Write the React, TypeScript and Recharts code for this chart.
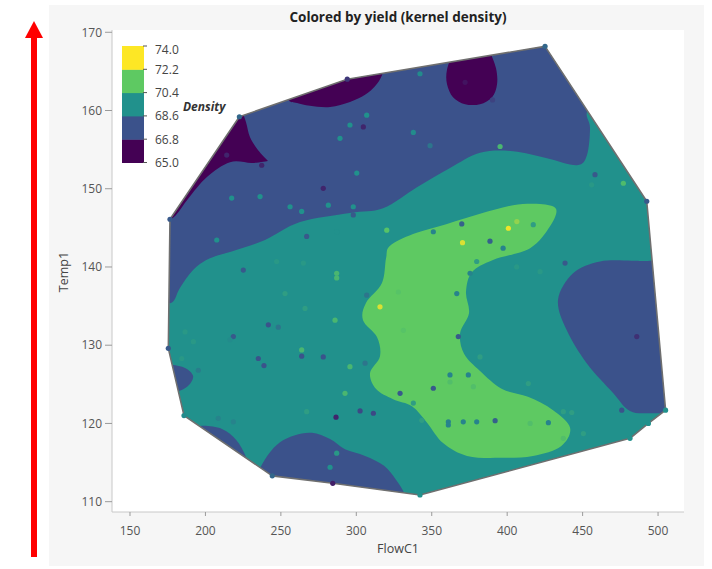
import React from "react";
import { ScatterChart, Scatter, XAxis, YAxis, CartesianGrid } from "recharts";

// [FlowC1, Temp1, sharp?]
type Pt = [number, number] | [number, number, number];

const FONT = "'Open Sans', 'Noto Sans', sans-serif";
const BOX = "#c8c8c8";

const flowTicks = [150, 200, 250, 300, 350, 400, 450, 500];
const tempTicks = [110, 120, 130, 140, 150, 160, 170];
const X_DOMAIN: [number, number] = [138.07, 517.2];
const Y_DOMAIN: [number, number] = [108.68, 170.29];

const levels = [65.0, 66.8, 68.6, 70.4, 72.2, 74.0];
const bandColors = ["#440154", "#3b528b", "#21918c", "#5ec962", "#fde725"];

const hull: Pt[] = [
  [176.5, 146.1], [222.5, 159.2], [294.0, 164.0], [425.1, 168.2], [492.5, 148.4],
  [505.0, 121.7], [493.6, 120.0], [481.4, 118.1], [342.2, 110.85], [284.4, 112.35],
  [244.3, 113.3], [185.8, 121.0], [175.4, 129.6],
];

const blueUpper: Pt[] = [
  [163.3, 135.8, 1], [177.2, 135.4], [183.1, 137.3], [191.8, 139.6], [203.0, 141.1],
  [220.9, 142.2], [239.5, 143.45], [262.7, 145.75], [295.8, 146.9], [317.7, 147.5],
  [340.2, 150.2], [362.1, 152.65], [382.0, 154.6], [403.9, 154.8], [426.4, 153.9],
  [446.3, 153.0], [452.9, 154.3], [454.9, 157.8], [452.9, 159.8], [461.6, 162.0, 1],
  [474.8, 171.6, 1], [163.3, 171.6, 1],
];

const blueRight: Pt[] = [
  [527.8, 141.5, 1], [494.7, 140.8], [483.4, 140.8], [461.6, 140.7], [443.7, 139.2],
  [433.7, 135.8], [439.5, 131.9], [452.7, 127.7], [470.2, 123.9], [481.4, 121.6],
  [496.7, 121.3], [527.8, 121.45, 1],
];

const blueBottom: Pt[] = [
  [234.8, 113.8, 1], [241.5, 116.0], [249.4, 117.6], [259.4, 118.5], [270.6, 118.8],
  [282.6, 118.0], [292.5, 116.7], [305.8, 115.85], [318.4, 114.6], [326.3, 112.8],
  [332.3, 110.7], [332.3, 107.8, 1], [234.8, 107.8, 1],
];

const blueBottomLeft: Pt[] = [
  [199.05, 119.7], [211.0, 119.3], [220.3, 117.9], [226.9, 115.7],
  [230.9, 113.2, 1], [196.4, 115.3, 1], [192.4, 119.4, 1],
];

const blueLeftSmall: Pt[] = [
  [169.9, 127.6, 1], [177.8, 127.5], [186.5, 127.1], [191.8, 126.1],
  [189.1, 124.9], [182.5, 124.15], [169.9, 123.8, 1],
];

const purpleLeft: Pt[] = [
  [171.9, 145.4, 1], [180.5, 146.65], [188.4, 148.7], [201.0, 151.5], [216.3, 153.4],
  [230.9, 153.3], [241.5, 153.55, 1], [234.8, 154.95], [229.5, 156.6], [226.9, 158.5],
  [222.9, 160.7, 1], [213.0, 161.35, 1], [169.9, 147.9, 1],
];

const purpleTop: Pt[] = [
  [253.4, 164.5, 1], [254.7, 161.5], [260.7, 160.96], [269.3, 160.6], [282.6, 160.45],
  [295.8, 161.1], [305.8, 162.0], [312.4, 163.1], [317.0, 164.5], [319.0, 166.5, 1],
];

const purpleCircle: Pt[] = [
  [360.1, 165.2], [360.1, 163.4], [364.1, 161.7], [372.1, 160.8], [382.0, 160.8],
  [390.0, 161.7], [393.3, 163.4], [392.6, 165.4], [388.6, 167.5, 1], [364.1, 167.5, 1],
];

const greenBand: Pt[] = [
  [322.35, 142.7], [337.6, 144.2], [360.1, 145.5], [382.0, 146.8], [403.9, 147.9],
  [421.8, 148.05], [432.4, 147.4], [428.4, 145.2], [415.2, 142.4], [390.6, 140.9],
  [376.7, 139.35], [372.7, 136.8], [374.7, 134.1], [368.8, 131.55], [371.4, 128.9],
  [382.0, 126.7], [396.6, 124.4], [413.8, 123.4], [430.4, 121.7], [441.7, 119.45],
  [435.7, 117.1], [417.1, 115.85], [395.3, 115.6], [373.4, 115.85], [357.5, 117.5],
  [346.9, 120.1], [336.9, 122.2], [324.35, 123.1], [313.1, 124.4], [309.1, 126.45],
  [315.7, 128.6], [313.7, 131.05], [304.45, 133.2], [306.4, 135.4], [317.0, 137.95],
  [319.7, 141.1],
];

// observations: [FlowC1, Temp1, yield]
const observations: [number, number, number][] = [
  [176.5, 146.1, 67.5], [222.5, 159.2, 68.0], [294.0, 164.0, 66.5], [425.1, 168.2, 68.0],
  [492.5, 148.4, 67.5], [505.0, 121.7, 69.5], [493.6, 120.0, 69.5], [481.4, 118.1, 69.5],
  [342.2, 110.85, 69.5], [284.4, 112.35, 65.8], [244.3, 113.3, 68.0], [185.8, 121.0, 69.3],
  [175.4, 129.6, 67.5],
  [214.1, 154.3, 66], [237.3, 153.0, 66], [295.8, 158.15, 69.5], [304.65, 157.9, 66],
  [306.9, 159.4, 69.5], [289.2, 156.45, 69.5], [337.8, 157.2, 69.3], [348.9, 155.5, 68.5],
  [372.1, 163.6, 65.5], [342.2, 164.7, 69.3], [390.3, 161.35, 66.8], [278.1, 150.05, 66],
  [300.3, 152.0, 69.5], [236.2, 149.0, 69.5], [217.4, 148.8, 69.5], [256.1, 147.7, 69.5],
  [263.8, 147.1, 69.5], [281.45, 147.9, 69.5], [298.0, 147.7, 69.5], [298.0, 146.65, 67.5],
  [207.5, 143.45, 69.5], [267.1, 143.9, 67.5], [287.0, 144.5, 69.5], [320.2, 144.7, 71.5],
  [351.05, 144.5, 69.0], [369.9, 145.5, 67.8], [395.3, 155.4, 71.0], [400.8, 144.95, 73.8],
  [406.4, 145.8, 72.5], [370.4, 143.1, 73.5], [388.6, 143.3, 67.8], [397.3, 142.4, 69.0],
  [417.3, 145.4, 70.0], [458.2, 151.8, 67.5], [456.0, 150.5, 69.8], [477.0, 150.7, 71.2],
  [225.1, 139.6, 67.5], [247.2, 140.7, 69.8], [264.9, 140.5, 69.8], [287.0, 139.2, 71.0],
  [287.0, 138.6, 71.0], [252.75, 136.6, 70.0], [266.0, 134.7, 70.0], [285.9, 133.2, 71.0],
  [241.7, 132.6, 67.3], [248.3, 132.3, 68.5], [218.5, 131.1, 67.5], [192.0, 130.45, 69.8],
  [186.5, 131.7, 69.8], [216.3, 130.7, 69.3], [263.8, 129.4, 71.0], [263.8, 128.6, 67.3],
  [278.1, 128.5, 67.3], [235.05, 128.3, 67.3], [238.8, 127.4, 67.3], [184.3, 128.3, 69.8],
  [195.3, 126.8, 68.8], [295.8, 127.25, 71.0], [305.8, 127.7, 68.5], [292.5, 123.85, 71.0],
  [267.1, 121.5, 70.0], [208.5, 120.65, 69.0], [218.5, 120.2, 69.0], [286.55, 120.8, 66.0],
  [302.5, 121.6, 67.0], [311.3, 121.3, 67.0], [282.6, 114.4, 69.5], [287.0, 116.2, 69.8],
  [315.7, 134.9, 73.5], [306.9, 136.4, 68.5], [329.0, 123.85, 67.5], [327.9, 136.8, 71.5],
  [331.2, 131.9, 71.5], [379.8, 140.7, 70.0], [375.4, 139.2, 69.0], [438.35, 140.5, 67.5],
  [406.3, 140.0, 69.8], [421.8, 139.4, 69.8], [366.6, 136.6, 69.0], [367.6, 131.1, 67.5],
  [382.0, 128.5, 70.0], [485.9, 131.1, 66.3], [362.1, 126.2, 69.0], [374.25, 126.2, 69.0],
  [362.1, 125.3, 71.3], [351.05, 124.5, 67.5], [377.6, 124.7, 71.3], [414.0, 125.1, 70.0],
  [361.0, 120.2, 69.0], [361.0, 119.8, 69.0], [370.9, 120.2, 69.0], [379.8, 120.2, 69.0],
  [392.0, 120.35, 67.8], [427.3, 120.1, 69.0], [415.2, 120.0, 71.3], [437.2, 121.5, 70.0],
  [442.8, 121.4, 70.0], [437.2, 118.1, 71.3], [450.5, 118.7, 70.0], [475.95, 121.7, 67.3],
  [343.4, 120.4, 70.0], [337.8, 122.6, 70.0],
];

const toRows = (pts: Pt[]) => pts.map((p) => ({ x: p[0], y: p[1], sharp: p[2] === 1 }));
const obsRows = observations.map(([x, y, v]) => ({ x, y, yield: v }));

function hexRgb(h: string) {
  const n = parseInt(h.slice(1), 16);
  return [(n >> 16) & 255, (n >> 8) & 255, n & 255];
}

function yieldColor(v: number) {
  const t = Math.max(0, Math.min(1, (v - levels[0]) / (levels[5] - levels[0])));
  const s = t * 4;
  const i = Math.min(3, Math.floor(s));
  const f = s - i;
  const a = hexRgb(bandColors[i]);
  const b = hexRgb(bandColors[i + 1]);
  const c = a.map((av, k) => Math.round(av + (b[k] - av) * f));
  return `rgb(${c[0]},${c[1]},${c[2]})`;
}

type XY = { x: number; y: number };

function linearPath(pts: XY[]) {
  return pts.map((p, i) => `${i ? "L" : "M"}${p.x},${p.y}`).join("") + "Z";
}

// closed catmull-rom, corners where sharp is set
function smoothPath(pts: XY[], sharp: boolean[]) {
  const n = pts.length;
  let d = `M${pts[0].x},${pts[0].y}`;
  for (let i = 0; i < n; i++) {
    const p0 = pts[(i - 1 + n) % n];
    const p1 = pts[i];
    const p2 = pts[(i + 1) % n];
    const p3 = pts[(i + 2) % n];
    const k1 = sharp[i] ? 0 : 1 / 6;
    const k2 = sharp[(i + 1) % n] ? 0 : 1 / 6;
    const c1x = p1.x + (p2.x - p0.x) * k1;
    const c1y = p1.y + (p2.y - p0.y) * k1;
    const c2x = p2.x - (p3.x - p1.x) * k2;
    const c2y = p2.y - (p3.y - p1.y) * k2;
    d += `C${c1x},${c1y} ${c2x},${c2y} ${p2.x},${p2.y}`;
  }
  return d + "Z";
}

const noSymbol = () => <g />;

function regionLine(rows: { sharp: boolean }[], fill: string) {
  return (props: any) => (
    <path
      d={smoothPath(props.points, rows.map((r) => r.sharp))}
      fill={fill}
      stroke="none"
      clipPath="url(#hull-clip)"
    />
  );
}

const hullRows = toRows(hull);

const hullFill = (props: any) => (
  <g>
    <defs>
      <clipPath id="hull-clip">
        <path d={linearPath(props.points)} />
      </clipPath>
    </defs>
    <path d={linearPath(props.points)} fill={bandColors[2]} stroke="none" />
  </g>
);

const hullOutline = (props: any) => (
  <path d={linearPath(props.points)} fill="none" stroke="#6f6f6f" strokeWidth={1.6} strokeLinejoin="round" />
);

const regions: { rows: ReturnType<typeof toRows>; color: string }[] = [
  { rows: toRows(blueUpper), color: bandColors[1] },
  { rows: toRows(blueRight), color: bandColors[1] },
  { rows: toRows(blueBottom), color: bandColors[1] },
  { rows: toRows(blueBottomLeft), color: bandColors[1] },
  { rows: toRows(blueLeftSmall), color: bandColors[1] },
  { rows: toRows(purpleLeft), color: bandColors[0] },
  { rows: toRows(purpleTop), color: bandColors[0] },
  { rows: toRows(purpleCircle), color: bandColors[0] },
  { rows: toRows(greenBand), color: bandColors[3] },
];

const tickStyle = { fill: "#555", fontSize: 12, fontFamily: FONT };

function ColorBar() {
  const left = 122;
  const top = 46;
  const w = 22;
  const bandH = 23.3;
  const n = bandColors.length;
  return (
    <g>
      {bandColors.map((c, i) => (
        <rect key={c} x={left} y={top + (n - 1 - i) * bandH} width={w} height={bandH + 0.5} fill={c} />
      ))}
      {levels.map((lv, j) => {
        const y = top + (n - j) * bandH;
        return (
          <g key={lv}>
            <line x1={left + w - 1} x2={left + w + 3} y1={y} y2={y} stroke="#555" strokeWidth={1} />
            <text x={155} y={Math.max(y, top + 3)} fontSize={12} fill="#444" dominantBaseline="central" fontFamily={FONT}>
              {lv.toFixed(1)}
            </text>
          </g>
        );
      })}
      <text x={183} y={106} fontSize={12} fontWeight={700} fontStyle="italic" fill="#333" dominantBaseline="central" fontFamily={FONT}>
        Density
      </text>
    </g>
  );
}

export default function App() {
  return (
    <div style={{ position: "absolute", left: 0, top: 0, width: 712, height: 569, background: "#fff", fontFamily: FONT }}>
      <div style={{ position: "absolute", left: 49, top: 5, width: 655, height: 561, background: "#f6f6f6" }} />
      <div style={{ position: "absolute", left: 0, top: 0 }}>
        <ScatterChart width={712} height={569} margin={{ top: 30, right: 28, bottom: 12, left: 62 }}>
          <CartesianGrid horizontal={false} vertical={false} fill="#ffffff" />
          <XAxis
            dataKey="x"
            type="number"
            domain={X_DOMAIN}
            allowDataOverflow
            ticks={flowTicks}
            height={45}
            tickSize={4}
            tickMargin={10}
            tick={tickStyle}
            tickLine={{ stroke: "#9a9a9a" }}
            axisLine={{ stroke: BOX }}
          />
          <XAxis
            xAxisId="top"
            orientation="top"
            type="number"
            domain={X_DOMAIN}
            allowDataOverflow
            height={0}
            tick={false}
            tickLine={false}
            axisLine={{ stroke: BOX }}
          />
          <YAxis
            dataKey="y"
            type="number"
            domain={Y_DOMAIN}
            allowDataOverflow
            ticks={tempTicks}
            width={50}
            tickSize={7}
            tickMargin={3}
            tick={tickStyle}
            tickLine={{ stroke: "#9a9a9a" }}
            axisLine={{ stroke: BOX }}
          />
          <YAxis
            yAxisId="right"
            orientation="right"
            type="number"
            domain={Y_DOMAIN}
            allowDataOverflow
            width={0}
            tick={false}
            tickLine={false}
            axisLine={{ stroke: BOX }}
          />
          <Scatter data={hullRows} isAnimationActive={false} shape={noSymbol} line={hullFill} />
          {regions.map((r, i) => (
            <Scatter
              key={i}
              data={r.rows}
              isAnimationActive={false}
              shape={noSymbol}
              line={regionLine(r.rows, r.color)}
            />
          ))}
          <Scatter data={hullRows} isAnimationActive={false} shape={noSymbol} line={hullOutline} />
          <Scatter
            data={obsRows}
            isAnimationActive={false}
            shape={(p: any) => <circle cx={p.cx} cy={p.cy} r={2.6} fill={yieldColor(p.payload.yield)} />}
          />
        </ScatterChart>
      </div>
      <svg width={712} height={569} style={{ position: "absolute", left: 0, top: 0, pointerEvents: "none" }}>
        <text x={398} y={21.5} textAnchor="middle" fontSize={13.5} fontWeight={700} fill="#222" fontFamily={FONT}>
          Colored by yield (kernel density)
        </text>
        <text x={398} y={553} textAnchor="middle" fontSize={12.5} fill="#444" fontFamily={FONT}>
          FlowC1
        </text>
        <text transform="translate(63,272) rotate(-90)" textAnchor="middle" dominantBaseline="central" fontSize={12.5} fill="#444" fontFamily={FONT}>
          Temp1
        </text>
        <ColorBar />
        <rect x={31} y={36} width={6} height={521} fill="#ff0000" />
        <polygon points="25,38 43,38 34,21" fill="#ff0000" />
      </svg>
    </div>
  );
}
